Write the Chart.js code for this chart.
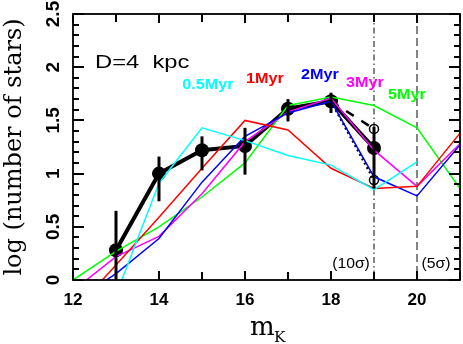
<!DOCTYPE html>
<html>
<head>
<meta charset="utf-8">
<script src="https://cdn.jsdelivr.net/npm/chart.js@4.4.1/dist/chart.umd.min.js"></script>
<style>
  html, body { margin: 0; padding: 0; background: #fff; }
  #wrap { width: 463px; height: 344px; }
</style>
</head>
<body>
<div id="wrap"><canvas id="lf-chart" width="463" height="344"></canvas></div>
<script>
// K band luminosity function: model ages vs. observed counts
var magBins = [12, 13, 14, 15, 16, 17, 18, 19, 20, 21];
var age05 = [-0.30, -0.14, 0.91, 1.43, 1.31, 1.17, 1.08, 0.85, 1.11, null];
var age1  = [-0.30, 0.14, 0.59, 1.05, 1.50, 1.41, 1.05, 0.86, 0.88, 1.38];
var age2  = [-0.21, 0.06, 0.39, 0.92, 1.35, 1.57, 1.68, 0.97, 0.79, 1.27];
var age3  = [-0.10, 0.22, 0.41, 0.81, 1.30, 1.58, 1.71, 1.22, 0.88, 1.28];
var age5  = [0.00, 0.27, 0.50, 0.78, 1.10, 1.64, 1.72, 1.64, 1.43, 0.86];

var obsMag = [13, 14, 15, 16, 17, 18, 19];
var obsVal = [0.28, 1.00, 1.22, 1.26, 1.61, 1.68, 1.24];
var obsLo  = [0.00, 0.74, 1.03, 0.99, 1.49, 1.57, 0.86];
var obsHi  = [0.65, 1.16, 1.35, 1.43, 1.70, 1.76, 1.44];

// alternative values for the last bin (open circles)
var altMag   = [18, 19];
var altUpper = [1.68, 1.42];
var altLower = [1.68, 0.94];

var ageLabels = ['0.5Myr', '1Myr', '2Myr', '3Myr', '5Myr'];
var ageColors = ['#00ffff', '#ff0000', '#0000ff', '#ff00ff', '#00ff00'];
var limitMags = [19, 20];
var limitLabels = ['(10\u03c3)', '(5\u03c3)'];

function pts(xs, ys) {
  return xs.map(function (x, i) { return { x: x, y: ys[i] }; });
}

var ageSeries = [age05, age1, age2, age3, age5];
var datasets = ageSeries.map(function (s, i) {
  return {
    label: ageLabels[i],
    data: pts(magBins, s),
    borderColor: ageColors[i],
    borderWidth: 1.5,
    pointRadius: 0,
    tension: 0,
    clip: 0
  };
});
datasets.push({
  label: 'upper', data: pts(altMag, altUpper),
  borderColor: '#000', borderWidth: 2.5, borderDash: [9, 9],
  pointRadius: [0, 4.5], pointBorderWidth: 1.5, pointBorderColor: '#000',
  pointBackgroundColor: 'rgba(0,0,0,0)'
});
datasets.push({
  label: 'lower', data: pts(altMag, altLower),
  borderColor: '#000', borderWidth: 2.5, borderDash: [2, 3],
  pointRadius: [0, 4.5], pointBorderWidth: 1.5, pointBorderColor: '#000',
  pointBackgroundColor: 'rgba(0,0,0,0)'
});
datasets.push({
  label: 'observed', data: pts(obsMag, obsVal),
  borderColor: '#000', borderWidth: 4,
  pointRadius: 7, pointBackgroundColor: '#000', pointBorderWidth: 0
});

function drawText(ctx, txt, x, y, font, color, sx, align) {
  ctx.save();
  ctx.font = font;
  ctx.fillStyle = color;
  ctx.translate(x, y);
  ctx.scale(sx, 1);
  ctx.textAlign = align || 'center';
  ctx.textBaseline = 'alphabetic';
  ctx.fillText(txt, 0, 0);
  ctx.restore();
}

var extras = {
  id: 'extras',
  beforeDatasetsDraw: function (chart) {
    var ctx = chart.ctx, a = chart.chartArea, xs = chart.scales.x;
    ctx.save();
    ctx.strokeStyle = '#333';
    ctx.lineWidth = 1.2;
    limitMags.forEach(function (m, i) {
      ctx.setLineDash(i === 0 ? [6, 3, 1.5, 3] : [8, 4]);
      var px = xs.getPixelForValue(m);
      ctx.beginPath();
      ctx.moveTo(px, a.top);
      ctx.lineTo(px, a.bottom);
      ctx.stroke();
    });
    ctx.restore();
  },
  afterDatasetsDraw: function (chart) {
    var ctx = chart.ctx, xs = chart.scales.x, ys = chart.scales.y;
    ctx.save();
    ctx.strokeStyle = '#000';
    ctx.lineWidth = 3;
    obsMag.forEach(function (m, i) {
      var px = xs.getPixelForValue(m);
      ctx.beginPath();
      ctx.moveTo(px, ys.getPixelForValue(obsLo[i]));
      ctx.lineTo(px, ys.getPixelForValue(obsHi[i]));
      ctx.stroke();
    });
    ctx.restore();
  },
  afterDraw: function (chart) {
    var ctx = chart.ctx, a = chart.chartArea, xs = chart.scales.x, ys = chart.scales.y;
    ctx.save();
    ctx.setLineDash([]);
    ctx.fillStyle = '#000';
    // inward ticks on all four sides
    ys.ticks.forEach(function (t) {
      var py = Math.round(ys.getPixelForValue(t.value)) - 1;
      var major = Math.abs(t.value * 2 - Math.round(t.value * 2)) < 1e-6;
      var len = major ? 11 : 6;
      ctx.fillRect(a.left, py, len, 2);
      ctx.fillRect(a.right - len, py, len, 2);
    });
    xs.ticks.forEach(function (t) {
      var px = Math.round(xs.getPixelForValue(t.value)) - 1;
      var len = t.value % 2 === 0 ? 9 : 8;
      ctx.fillRect(px, a.bottom - len, 2, len);
      ctx.fillRect(px, a.top, 2, len);
    });
    ctx.strokeStyle = '#000';
    ctx.lineWidth = 1.8;
    ctx.strokeRect(a.left, a.top, a.right - a.left, a.bottom - a.top);
    ctx.restore();

    drawText(ctx, 'D=4  kpc', 95, 68, '19px "Liberation Sans"', '#000', 1.25, 'left');
    var lx = [208, 265, 320, 365, 407];
    var ly = [89, 83, 79, 87, 99];
    ageLabels.forEach(function (l, i) {
      drawText(ctx, l, lx[i], ly[i], 'bold 15px "Liberation Sans"', ageColors[i], 1.08);
    });
    var sx = [351, 436];
    limitLabels.forEach(function (l, i) {
      drawText(ctx, l, sx[i], 268, '15px "Liberation Sans"', '#000', 1.05);
    });
    drawText(ctx, 'm', 250, 335, '26px "DejaVu Serif"', '#000', 1, 'left');
    drawText(ctx, 'K', 274, 342, '14px "DejaVu Serif"', '#000', 1.1, 'left');
  }
};

new Chart(document.getElementById('lf-chart').getContext('2d'), {
  type: 'line',
  data: { datasets: datasets },
  options: {
    responsive: false,
    animation: false,
    events: [],
    layout: { autoPadding: false, padding: { left: 0, right: 3, top: 14, bottom: 0 } },
    plugins: { legend: { display: false }, tooltip: { enabled: false } },
    scales: {
      x: {
        type: 'linear', min: 12, max: 21,
        grid: { display: false, drawTicks: false },
        border: { display: false },
        afterFit: function (s) { s.height = 64; s.paddingLeft = 0; s.paddingRight = 0; },
        ticks: {
          stepSize: 1, autoSkip: false, maxTicksLimit: 100, maxRotation: 0, padding: 10,
          color: '#000',
          font: { family: 'Liberation Sans', size: 17, weight: 'bold' },
          callback: function (v) { return v % 2 === 0 ? String(v) : ''; }
        }
      },
      y: {
        min: 0, max: 2.5,
        grid: { display: false, drawTicks: false },
        border: { display: false },
        afterFit: function (s) { s.width = 73; s.paddingTop = 0; s.paddingBottom = 0; },
        title: {
          display: true, text: 'log (number of stars)', color: '#000',
          font: { family: 'DejaVu Serif', size: 24 }, padding: { top: 0, bottom: 0 }
        },
        ticks: {
          stepSize: 0.1, autoSkip: false, maxTicksLimit: 100, minRotation: 90, maxRotation: 90,
          crossAlign: 'center', padding: 6, color: '#000',
          font: { family: 'Liberation Sans', size: 19, weight: 'bold' },
          callback: function (v) {
            var h = v * 2;
            if (Math.abs(h - Math.round(h)) > 1e-6) return '';
            return String(Math.round(h) / 2);
          }
        }
      }
    }
  },
  plugins: [extras]
});
</script>
</body>
</html>
